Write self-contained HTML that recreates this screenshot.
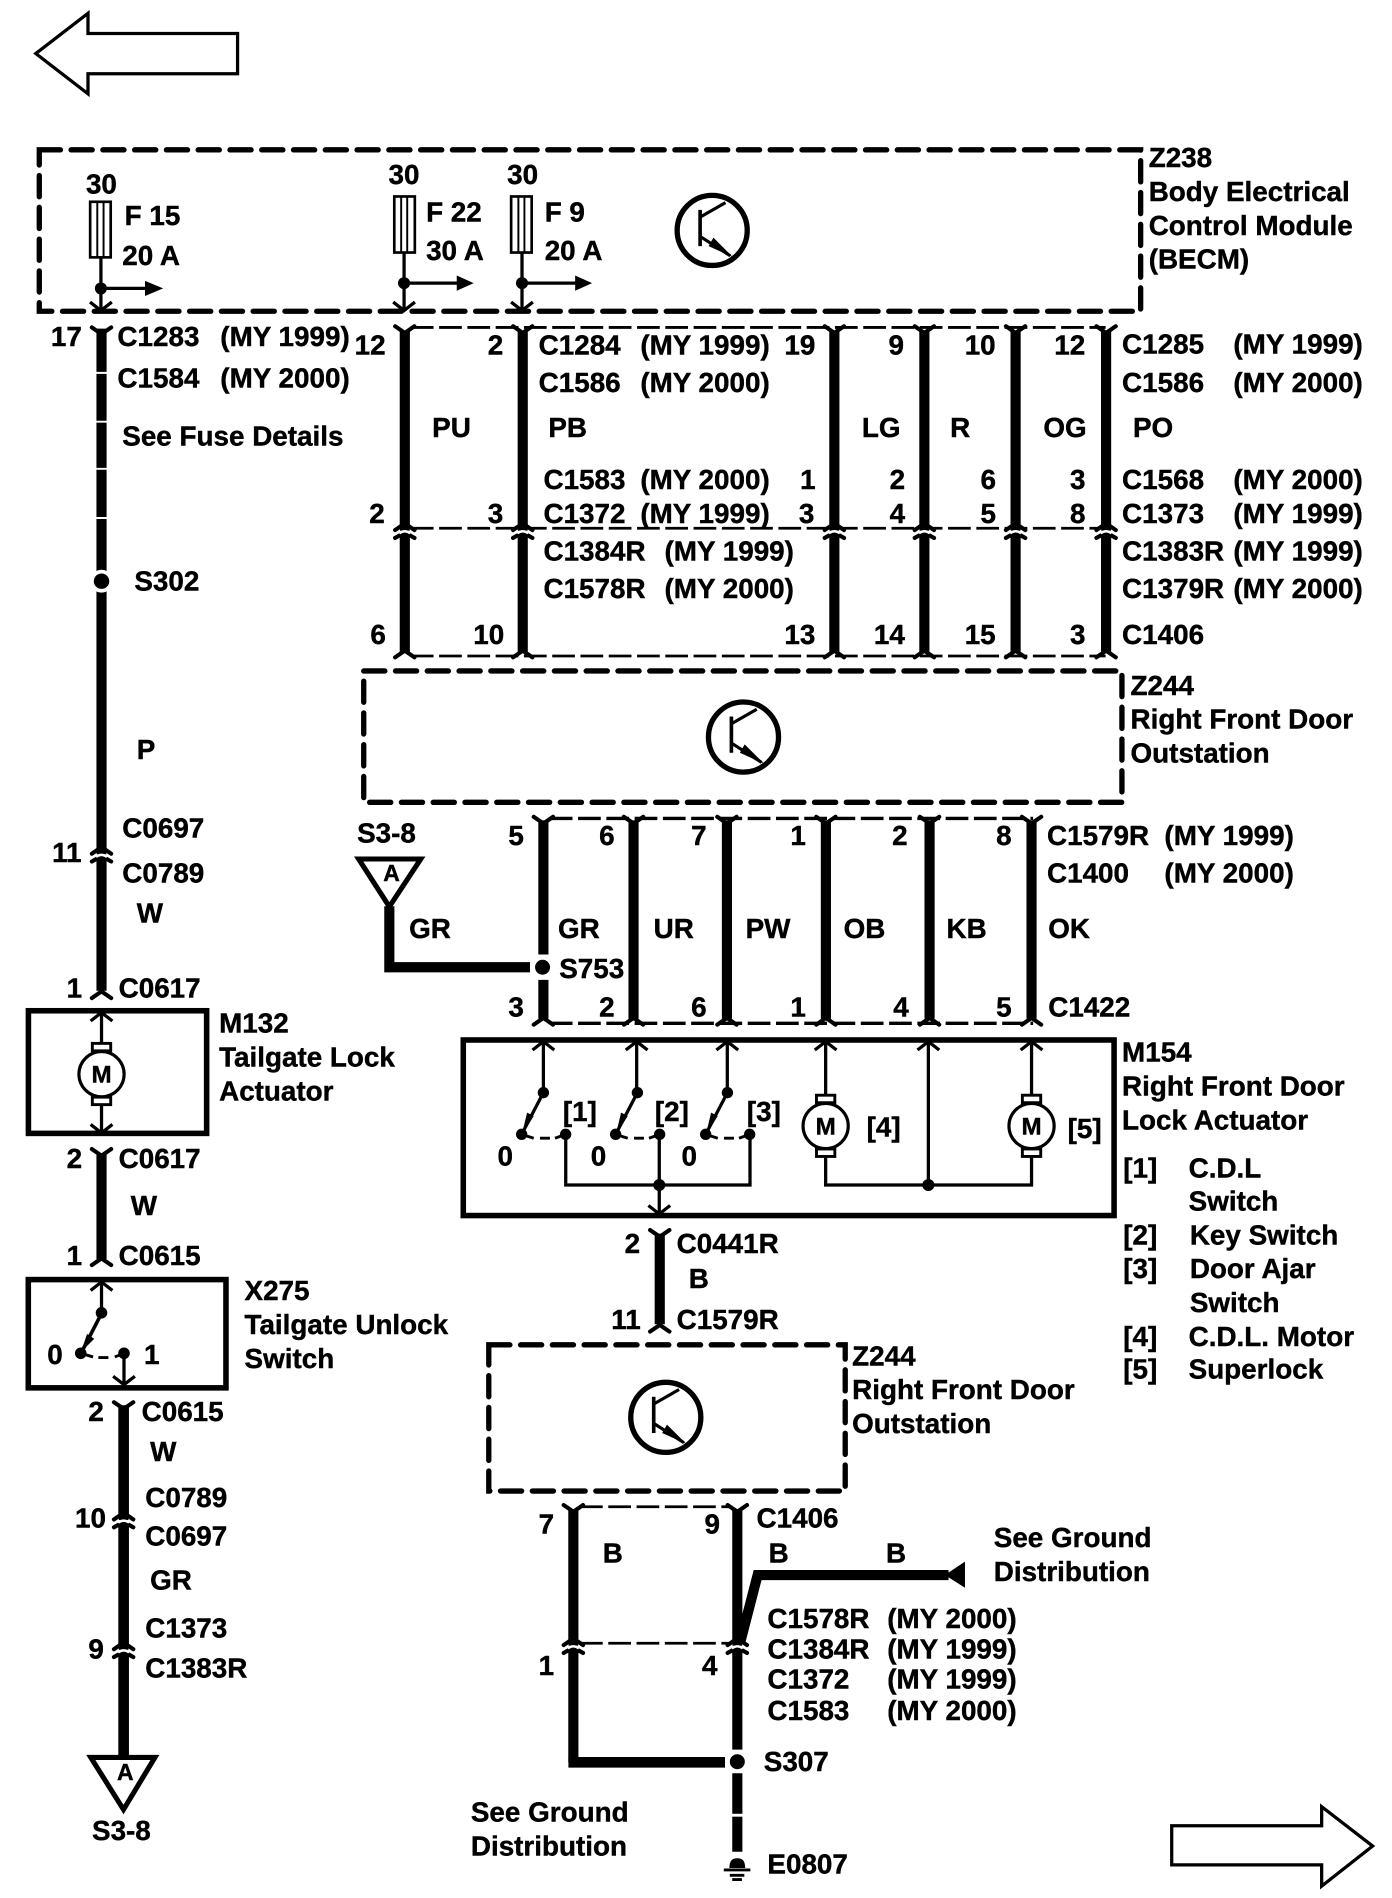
<!DOCTYPE html>
<html><head><meta charset="utf-8"><title>Door lock wiring diagram</title>
<style>
html,body{margin:0;padding:0;background:#fff}
svg{display:block}
text{font-family:"Liberation Sans",sans-serif;font-weight:bold;font-size:23px;fill:#000;stroke:#000;stroke-width:.35}
.w{stroke:#000;fill:none;stroke-width:8.4}
.t{stroke:#000;fill:none;stroke-width:2.7}
.d{stroke:#000;fill:none;stroke-width:2.3;stroke-dasharray:18.8 4.6}
.b{stroke:#000;fill:none;stroke-width:4.4;stroke-linecap:round;stroke-dasharray:17.5 8.8}
.s{stroke:#000;fill:none;stroke-width:4.6}
.f{stroke:#000;fill:none;stroke-width:3.4;stroke-linecap:round;stroke-linejoin:round}
.c{stroke:#000;fill:none;stroke-width:2.7}
</style></head><body>
<svg xmlns="http://www.w3.org/2000/svg" width="1392" height="1898" viewBox="0 0 1152 1570.8">
<defs>
<path id="ft" class="f" d="M-8 0 L0 5.5 L8 0"/>
<path id="fb" class="f" d="M-8 0 L0 -5.5 L8 0"/>
<g id="m"><path class="f" d="M-8 1.5 L0 -4 L8 1.5"/><path class="f" d="M-8 8 L0 3.5 L8 8"/><rect x="-4" y="-3" width="8" height="5"/><path d="M-4.5 4.2 Q0 0.8 4.5 4.2" fill="none" stroke="#fff" stroke-width="2"/></g>
<path id="au" class="c" d="M-9 7 L0 0 L9 7"/>
<path id="ad" class="c" d="M-9 -7 L0 0 L9 -7"/>
<g id="tr"><circle r="29" fill="none" stroke="#000" stroke-width="4.4"/><path d="M-10 -17V13" fill="none" stroke="#000" stroke-width="3"/><path d="M-10 -11L11 -23M-10 5L15 21" fill="none" stroke="#000" stroke-width="2.6"/><path d="M1 6L17 22L-3 13Z" fill="#000"/></g>
<g id="mot"><circle r="18.7" fill="#fff" stroke="#000" stroke-width="2.6"/><rect x="-7.6" y="-25.5" width="15.2" height="6.2" fill="#fff" stroke="#000" stroke-width="2.4"/><rect x="-7.6" y="19" width="15.2" height="6.2" fill="#fff" stroke="#000" stroke-width="2.4"/><text x="0" y="7" text-anchor="middle" style="font-size:20px">M</text></g>
<g id="sw"><path class="t" d="M18 -34.5L0 0"/><path d="M4.5 -18L10 -15.2L0 1Z"/><circle cx="18" cy="-34.5" r="4.7"/><circle cx="0" cy="0" r="4.7"/><circle cx="36.4" cy="0" r="4.7"/><path class="t" d="M0 0L10 3.2M15.2 3.2H23.4M27.6 3.2L36.4 0" style="stroke-width:2.4"/></g>
</defs>

<!-- large arrows -->
<polygon class="t" points="29.6,44.3 72.8,11 72.8,27.7 196.6,27.7 196.6,61 72.8,61 72.8,77.6"/>
<polygon class="t" points="969.7,1511 1093.8,1511 1093.8,1495.2 1136,1527.8 1093.8,1561 1093.8,1543.4 969.7,1543.4"/>

<!-- dashed boxes -->
<rect class="b" x="32.5" y="124" width="911.5" height="133.6"/>
<rect class="b" x="301" y="555.3" width="627.5" height="108.7"/>
<rect class="b" x="404.5" y="1113" width="295" height="121"/>
<use href="#tr" x="589.4" y="190.7"/>
<use href="#tr" x="615.3" y="610"/>
<use href="#tr" x="551" y="1173"/>

<!-- fuses -->
<rect class="t" x="74.6" y="167" width="17" height="46" style="stroke-width:2.2"/><path d="M80.5 167V213M85.7 167V213" class="t" style="stroke-width:1.6"/>
<path class="t" d="M83.5 213V257M83.5 238.7H122"/><circle cx="83.5" cy="238.7" r="5"/><path d="M120 232.5L135 238.7L120 245Z"/><use href="#ad" x="83.5" y="257"/>
<rect class="t" x="326.3" y="162.6" width="17" height="46.4" style="stroke-width:2.2"/><path d="M332 162.6V209M337 162.6V209" class="t" style="stroke-width:1.6"/>
<path class="t" d="M334.4 209V257M334.4 234.3H379"/><circle cx="334.4" cy="234.3" r="5"/><path d="M378 228L392 234.3L378 240.6Z"/><use href="#ad" x="334.4" y="257"/>
<rect class="t" x="423" y="162.6" width="17" height="46.4" style="stroke-width:2.2"/><path d="M429 162.6V209M434 162.6V209" class="t" style="stroke-width:1.6"/>
<path class="t" d="M432 209V257M432 234.3H477"/><circle cx="432" cy="234.3" r="5"/><path d="M476 228L490 234.3L476 240.6Z"/><use href="#ad" x="432" y="257"/>

<!-- left wire column -->
<path class="w" d="M84 272V703M84 710V820"/>
<path stroke="#fff" stroke-width="1.6" d="M79 308.6H89M79 349H89M79 388H89M79 428.7H89"/>
<circle cx="84" cy="481" r="9.5" fill="#fff"/><circle cx="84" cy="481" r="6.4"/>
<use href="#ft" x="84" y="271"/>
<use href="#m" x="84" y="705"/>
<use href="#fb" x="84" y="826"/>
<rect class="s" x="23.5" y="836.5" width="147.5" height="101.5"/>
<path class="t" d="M84 838V864M84 914V937"/>
<use href="#au" x="84" y="838"/><use href="#ad" x="84" y="937.6"/>
<use href="#mot" x="84" y="889"/>
<path class="w" d="M84 955V1042"/><use href="#ft" x="84" y="951"/><use href="#fb" x="84" y="1047"/>
<rect class="s" x="23.4" y="1059" width="163.6" height="89.6"/>
<path class="t" d="M84 1061V1087"/><use href="#au" x="84" y="1061"/>
<path class="t" d="M84 1087L67 1120" style="stroke-width:3"/><path d="M72 1104L78 1108L67 1119Z"/>
<circle cx="84" cy="1086.5" r="4.8"/><circle cx="66.8" cy="1120" r="4.8"/><circle cx="102.6" cy="1120" r="4.8"/>
<path class="t" d="M66.8 1120L77 1123M81.4 1123.5H89.7M95 1123L102.6 1120" style="stroke-width:2.4"/>
<path class="t" d="M102.6 1120V1146"/><use href="#ad" x="102.6" y="1146"/>
<path class="w" d="M102.3 1163V1254M102.3 1261V1361M102.3 1368V1454" style="stroke-width:8.8"/>
<use href="#ft" x="102.3" y="1160.5"/>
<use href="#m" x="102.3" y="1256"/>
<use href="#m" x="102.3" y="1363.4"/>
<polygon points="75.1,1454.5 128.2,1454.5 102.2,1497.6" fill="#fff" stroke="#000" stroke-width="4.2"/>
<text x="103.7" y="1473" text-anchor="middle" style="font-size:19px">A</text>

<!-- top harness -->
<path class="d" d="M340 271H915M340 437.2H915M340 542.9H915"/>
<path class="w" d="M335 274V435M335 442V540M432.6 274V435M432.6 442V540M690.5 274V435M690.5 442V540M765 274V435M765 442V540M840.5 274V435M840.5 442V540M915.4 274V435M915.4 442V540"/>
<use href="#ft" x="335" y="270"/><use href="#ft" x="432.6" y="270"/><use href="#ft" x="690.5" y="270"/><use href="#ft" x="765" y="270"/><use href="#ft" x="840.5" y="270"/><use href="#ft" x="915.4" y="270"/>
<use href="#m" x="335" y="437.2"/><use href="#m" x="432.6" y="437.2"/><use href="#m" x="690.5" y="437.2"/><use href="#m" x="765" y="437.2"/><use href="#m" x="840.5" y="437.2"/><use href="#m" x="915.4" y="437.2"/>
<use href="#fb" x="335" y="544"/><use href="#fb" x="432.6" y="544"/><use href="#fb" x="690.5" y="544"/><use href="#fb" x="765" y="544"/><use href="#fb" x="840.5" y="544"/><use href="#fb" x="915.4" y="544"/>

<!-- second harness -->
<path class="d" d="M455 677.3H855M455 846.9H855" style="stroke-width:2.8"/>
<path class="w" d="M449.7 679V790M449.7 811V843M524.3 679V843M601.6 679V843M683.5 679V843M769.3 679V843M853.7 679V843"/>
<use href="#ft" x="449.7" y="676"/><use href="#ft" x="524.3" y="676"/><use href="#ft" x="601.6" y="676"/><use href="#ft" x="683.5" y="676"/><use href="#ft" x="769.3" y="676"/><use href="#ft" x="853.7" y="676"/>
<use href="#fb" x="449.7" y="848"/><use href="#fb" x="524.3" y="848"/><use href="#fb" x="601.6" y="848"/><use href="#fb" x="683.5" y="848"/><use href="#fb" x="769.3" y="848"/><use href="#fb" x="853.7" y="848"/>
<polygon points="296.8,710.9 348.2,710.9 322.2,750.4" fill="#fff" stroke="#000" stroke-width="4.2"/>
<text x="324" y="729" text-anchor="middle" style="font-size:19px">A</text>
<path class="w" d="M322.2 750V800.5H438.6"/>
<circle cx="449" cy="800.5" r="6.2"/>

<!-- M154 -->
<rect class="s" x="383.4" y="860.7" width="538.6" height="145.3"/>
<path class="t" d="M449.7 862V905M526.9 862V905M601.9 862V905M683.3 862V907M768.3 862V981M853.7 862V907"/>
<use href="#au" x="449.7" y="862"/><use href="#au" x="526.9" y="862"/><use href="#au" x="601.9" y="862"/><use href="#au" x="683.3" y="862"/><use href="#au" x="768.3" y="862"/><use href="#au" x="853.7" y="862"/>
<use href="#sw" x="431.7" y="938.8"/><use href="#sw" x="509.5" y="938.8"/><use href="#sw" x="584" y="938.8"/>
<path class="t" d="M468.2 938.8V980.7H620.7V938.8M545.6 938.8V1004M683.3 955V980.7H853.7V955"/>
<circle cx="545.6" cy="980.7" r="5"/><circle cx="768.3" cy="980.7" r="5"/>
<use href="#ad" x="545.6" y="1004.7"/>
<use href="#mot" x="683.3" y="931.9"/><use href="#mot" x="853.7" y="931.9"/>

<!-- middle wire -->
<path class="w" d="M546 1021V1096"/><use href="#ft" x="546" y="1018"/><use href="#fb" x="546" y="1102"/>

<!-- lower harness -->
<path class="d" d="M480 1247H605M480 1360H605"/>
<path class="w" d="M474.5 1249V1358M474.5 1365V1458.5"/>
<path class="w" d="M610.2 1249V1358M610.2 1365V1448M610.2 1467.6V1532.5"/>
<use href="#ft" x="474.5" y="1245.6"/><use href="#ft" x="610.2" y="1245.6"/>
<use href="#m" x="474.5" y="1360"/><use href="#m" x="610.2" y="1360"/>
<path class="w" d="M612.4 1360L627 1303.5H785"/>
<path d="M782 1303.5L798.6 1292.4V1314Z"/>
<path class="w" d="M470.4 1458.5H600" style="stroke-width:8.8"/>
<circle cx="610.2" cy="1458" r="6.2"/>
<path stroke="#fff" stroke-width="2.4" d="M604 1502.3H616"/>
<path d="M603.6 1546C603.6 1540 606 1537.9 610.2 1537.9C614.4 1537.9 616.7 1540 616.7 1546Z"/>
<path stroke="#000" stroke-width="2.4" d="M599 1547.6H621M604 1552H616M606 1555.5H614"/>

<!-- labels -->
<g transform="scale(1.00174)">
<text x="71" y="160">30</text><text x="103" y="186">F 15</text><text x="101" y="219">20 A</text>
<text x="321" y="152">30</text><text x="352" y="183">F 22</text><text x="352" y="215">30 A</text>
<text x="419" y="152">30</text><text x="450" y="183">F 9</text><text x="450" y="215">20 A</text>
<text x="949" y="138">Z238</text><text x="949" y="166">Body Electrical</text><text x="949" y="194">Control Module</text><text x="949" y="222">(BECM)</text>
<text x="42" y="286">17</text><text x="97" y="286">C1283</text><text x="182" y="286">(MY 1999)</text>
<text x="97" y="320">C1584</text><text x="182" y="320">(MY 2000)</text>
<text x="101" y="368">See Fuse Details</text><text x="111" y="488">S302</text><text x="113" y="627">P</text>
<text x="43" y="712">11</text><text x="101" y="692">C0697</text><text x="101" y="729">C0789</text><text x="113" y="762">W</text>
<text x="55" y="824">1</text><text x="98" y="824">C0617</text>
<text x="181" y="853">M132</text><text x="181" y="881">Tailgate Lock</text><text x="181" y="909">Actuator</text>
<text x="55" y="965">2</text><text x="98" y="965">C0617</text><text x="108" y="1004">W</text>
<text x="55" y="1045">1</text><text x="98" y="1045">C0615</text>
<text x="202" y="1074">X275</text><text x="202" y="1102">Tailgate Unlock</text><text x="202" y="1130">Switch</text>
<text x="39" y="1127">0</text><text x="119" y="1127">1</text>
<text x="73" y="1174">2</text><text x="117" y="1174">C0615</text><text x="124" y="1207">W</text>
<text x="120" y="1245">C0789</text><text x="62" y="1262">10</text><text x="120" y="1277">C0697</text><text x="124" y="1313">GR</text>
<text x="120" y="1353">C1373</text><text x="73" y="1370">9</text><text x="120" y="1386">C1383R</text><text x="76" y="1520">S3-8</text>

<text x="293" y="293">12</text><text x="403" y="293">2</text><text x="445" y="293">C1284</text><text x="529" y="293">(MY 1999)</text>
<text x="445" y="324">C1586</text><text x="529" y="324">(MY 2000)</text>
<text x="648" y="293">19</text><text x="734" y="293">9</text><text x="797" y="293">10</text><text x="871" y="293">12</text>
<text x="927" y="292">C1285</text><text x="1019" y="292">(MY 1999)</text><text x="927" y="324">C1586</text><text x="1019" y="324">(MY 2000)</text>
<text x="357" y="361">PU</text><text x="453" y="361">PB</text><text x="712" y="361">LG</text><text x="785" y="361">R</text><text x="862" y="361">OG</text><text x="936" y="361">PO</text>
<text x="449" y="404">C1583</text><text x="529" y="404">(MY 2000)</text><text x="661" y="404">1</text><text x="735" y="404">2</text><text x="810" y="404">6</text><text x="884" y="404">3</text><text x="927" y="404">C1568</text><text x="1019" y="404">(MY 2000)</text>
<text x="305" y="432">2</text><text x="403" y="432">3</text><text x="449" y="432">C1372</text><text x="529" y="432">(MY 1999)</text><text x="660" y="432">3</text><text x="735" y="432">4</text><text x="810" y="432">5</text><text x="884" y="432">8</text><text x="927" y="432">C1373</text><text x="1019" y="432">(MY 1999)</text>
<text x="449" y="463">C1384R</text><text x="549" y="463">(MY 1999)</text><text x="927" y="463">C1383R</text><text x="1019" y="463">(MY 1999)</text>
<text x="449" y="494">C1578R</text><text x="549" y="494">(MY 2000)</text><text x="927" y="494">C1379R</text><text x="1019" y="494">(MY 2000)</text>
<text x="306" y="532">6</text><text x="391" y="532">10</text><text x="648" y="532">13</text><text x="722" y="532">14</text><text x="797" y="532">15</text><text x="884" y="532">3</text><text x="927" y="532">C1406</text>
<text x="934" y="574">Z244</text><text x="934" y="602">Right Front Door</text><text x="934" y="630">Outstation</text>

<text x="295" y="696">S3-8</text><text x="420" y="698">5</text><text x="495" y="698">6</text><text x="571" y="698">7</text><text x="653" y="698">1</text><text x="737" y="698">2</text><text x="823" y="698">8</text>
<text x="865" y="698">C1579R</text><text x="962" y="698">(MY 1999)</text><text x="865" y="729">C1400</text><text x="962" y="729">(MY 2000)</text>
<text x="338" y="775">GR</text><text x="461" y="775">GR</text><text x="540" y="775">UR</text><text x="616" y="775">PW</text><text x="697" y="775">OB</text><text x="782" y="775">KB</text><text x="866" y="775">OK</text>
<text x="462" y="808">S753</text>
<text x="420" y="840">3</text><text x="495" y="840">2</text><text x="571" y="840">6</text><text x="653" y="840">1</text><text x="738" y="840">4</text><text x="823" y="840">5</text><text x="866" y="840">C1422</text>
<text x="927" y="877">M154</text><text x="927" y="905">Right Front Door</text><text x="927" y="933">Lock Actuator</text>
<text x="928" y="973">[1]</text><text x="982" y="973">C.D.L</text><text x="982" y="1000">Switch</text>
<text x="928" y="1028">[2]</text><text x="983" y="1028">Key Switch</text>
<text x="928" y="1056">[3]</text><text x="983" y="1056">Door Ajar</text><text x="983" y="1084">Switch</text>
<text x="928" y="1112">[4]</text><text x="982" y="1112">C.D.L. Motor</text>
<text x="928" y="1139">[5]</text><text x="982" y="1139">Superlock</text>
<text x="411" y="963">0</text><text x="488" y="963">0</text><text x="563" y="963">0</text>
<text x="465" y="926">[1]</text><text x="541" y="926">[2]</text><text x="617" y="926">[3]</text><text x="716" y="939">[4]</text><text x="882" y="940">[5]</text>

<text x="516" y="1035">2</text><text x="559" y="1035">C0441R</text><text x="569" y="1064">B</text><text x="505" y="1098">11</text><text x="559" y="1098">C1579R</text>
<text x="704" y="1128">Z244</text><text x="704" y="1156">Right Front Door</text><text x="704" y="1184">Outstation</text>
<text x="445" y="1267">7</text><text x="582" y="1267">9</text><text x="625" y="1262">C1406</text>
<text x="498" y="1291">B</text><text x="635" y="1291">B</text><text x="732" y="1291">B</text>
<text x="821" y="1278">See Ground</text><text x="821" y="1306">Distribution</text>
<text x="634" y="1345">C1578R</text><text x="733" y="1345">(MY 2000)</text>
<text x="634" y="1370">C1384R</text><text x="733" y="1370">(MY 1999)</text>
<text x="634" y="1395">C1372</text><text x="733" y="1395">(MY 1999)</text>
<text x="634" y="1421">C1583</text><text x="733" y="1421">(MY 2000)</text>
<text x="445" y="1384">1</text><text x="580" y="1384">4</text>
<text x="631" y="1463">S307</text>
<text x="389" y="1505">See Ground</text><text x="389" y="1533">Distribution</text>
<text x="634" y="1548">E0807</text>
</g>
</svg>
</body></html>
